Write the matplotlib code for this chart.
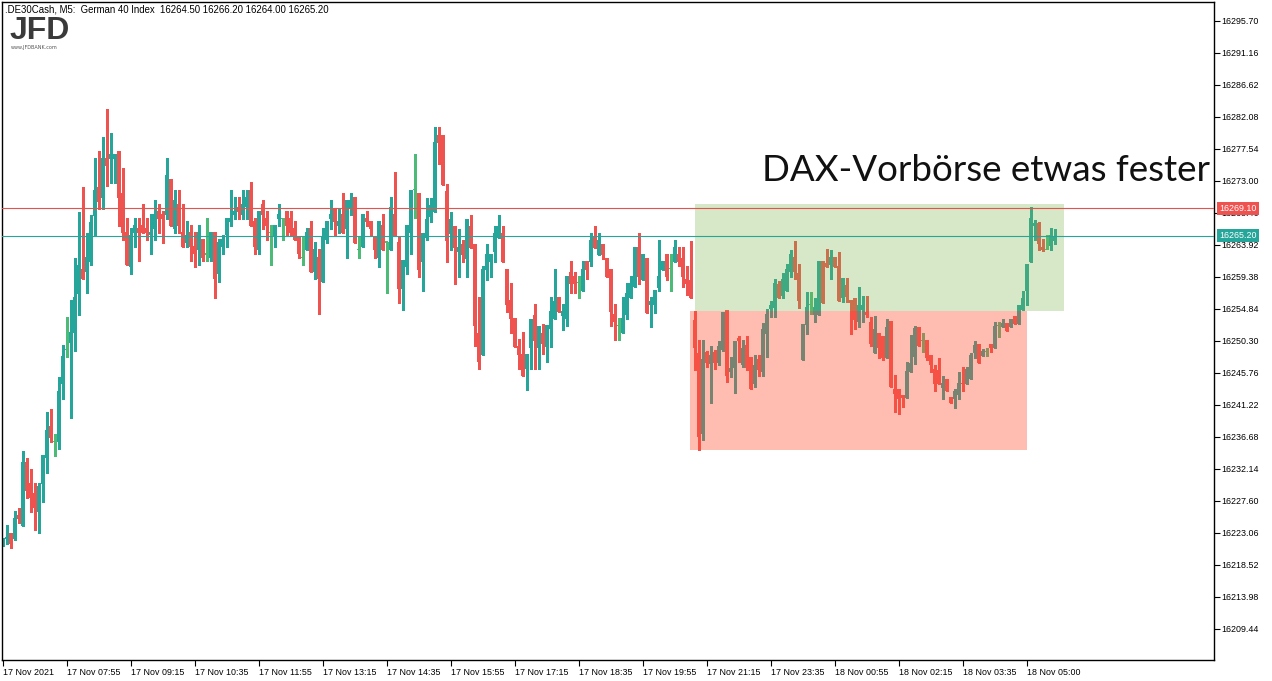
import numpy as np
import matplotlib
matplotlib.use("Agg")
import matplotlib.pyplot as plt
from matplotlib.patches import Rectangle
import matplotlib.transforms as mtransforms

# ---------------- data (5-minute bars, DE30) ----------------
opens = [
16221.5,16222.1,16223.0,16222.1,16225.6,16224.0,16233.1,16230.1,16228.7,16226.0,
16230.0,16233.6,16238.2,16236.0,16236.0,16244.1,16249.1,16250.0,16251.4,16257.0,
16260.5,16260.1,16261.5,16268.0,16272.1,16270.6,16276.2,16276.1,16276.1,16277.2,
16271.2,16265.7,16260.7,16265.6,16266.3,16266.7,16266.3,16265.3,16266.2,16268.7,
16268.3,16268.2,16273.2,16266.2,16269.7,16265.7,16264.2,16265.7,16263.7,16263.2,
16264.7,16262.6,16262.1,16265.7,16259.7,16263.6,16265.3,16267.2,16268.2,16269.3,
16268.2,16269.3,16271.7,16267.3,16263.2,16269.7,16267.7,16265.7,16265.2,16267.6,
16267.7,16268.7,16267.7,16266.3,16265.2,16262.1,16263.2,16266.3,16260.1,16262.2,
16258.7,16264.6,16267.6,16269.2,16266.6,16268.3,16266.2,16269.2,16270.7,16263.3,
16263.6,16267.7,16267.3,16265.2,16262.1,16266.7,16264.3,16263.2,16268.3,16264.3,
16257.7,16260.7,16265.6,16271.7,16271.2,16261.5,16264.9,16267.9,16268.5,16279.5,
16279.5,16271.5,16265.5,16266.6,16262.9,16264.0,16261.9,16266.6,16264.0,16251.4,
16248.3,16260.3,16261.5,16262.9,16264.9,16265.6,16260.5,16256.1,16253.5,16249.6,
16248.4,16246.3,16249.3,16254.0,16249.3,16251.4,16249.4,16252.0,16253.4,16256.5,
16253.8,16253.4,16260.0,16259.5,16258.5,16257.4,16261.6,16261.5,16265.0,16262.5,
16264.0,16262.0,16260.5,16254.1,16252.5,16251.4,16254.0,16256.4,16257.9,16263.6,
16258.9,16262.0,16255.4,16255.4,16257.8,16260.3,16262.6,16260.5,16261.5,16262.6,
16262.0,16259.1,16258.9,16253.2,16248.5,16237.0,16248.7,16247.0,16248.7,16247.2,
16249.0,16254.6,16245.9,16246.5,16250.7,16246.9,16249.7,16248.0,16244.2,16247.7,
16245.9,16251.3,16254.8,16255.0,16258.3,16256.7,16257.4,16260.1,16262.2,16259.9,
16247.6,16252.6,16255.5,16254.0,16254.0,16261.6,16261.3,16261.0,16262.2,16260.9,
16256.4,16258.2,16256.1,16256.4,16252.9,16254.7,16254.4,16253.0,16248.5,16251.4,
16251.0,16247.9,16253.1,16243.4,16243.4,16242.6,16242.2,16245.9,16248.0,16252.2,
16250.3,16250.4,16248.3,16246.3,16246.2,16243.6,16244.9,16242.3,16242.1,16242.6,
16244.3,16244.2,16244.8,16248.6,16249.8,16248.2,16248.8,16249.8,16249.2,16252.4,
16252.3,16252.8,16252.3,16253.8,16252.7,16254.7,16257.3,16261.5,16266.6,16267.0,
16263.6,16263.3,16263.7,16264.5]
highs = [
16222.3,16224.1,16223.0,16226.1,16226.6,16234.6,16233.6,16232.1,16230.1,16230.1,
16234.1,16240.2,16240.6,16237.1,16245.1,16249.7,16253.7,16256.1,16262.0,16268.6,
16272.1,16265.6,16268.1,16276.2,16277.2,16279.2,16283.2,16279.8,16276.8,16277.2,
16274.8,16267.7,16266.3,16267.7,16267.7,16269.7,16267.7,16268.3,16270.3,16269.7,
16268.7,16276.2,16273.2,16271.7,16271.7,16269.7,16267.3,16266.7,16265.7,16266.7,
16264.7,16267.7,16265.7,16265.7,16264.7,16265.3,16267.7,16271.7,16270.7,16270.7,
16271.7,16271.7,16272.8,16267.7,16268.7,16270.3,16268.7,16266.7,16266.7,16269.7,
16267.7,16268.7,16268.7,16267.3,16265.2,16265.2,16266.3,16267.3,16264.3,16263.3,
16266.3,16267.3,16270.3,16269.2,16269.2,16271.2,16270.3,16271.2,16270.7,16265.2,
16268.3,16268.7,16267.3,16265.2,16267.3,16268.3,16264.3,16270.7,16274.2,16265.2,
16261.7,16266.7,16271.7,16276.8,16271.2,16265.6,16270.5,16270.5,16280.6,16280.6,
16279.5,16272.5,16268.6,16266.6,16266.2,16264.6,16267.6,16268.1,16264.0,16256.5,
16260.9,16264.0,16262.6,16266.6,16268.1,16266.6,16260.5,16258.5,16253.5,16250.5,
16251.5,16248.4,16253.4,16255.5,16252.4,16252.7,16252.5,16256.5,16260.5,16256.5,
16255.5,16259.5,16261.6,16260.0,16259.5,16261.6,16261.6,16265.6,16266.6,16265.6,
16264.0,16262.0,16260.5,16255.5,16253.5,16256.5,16258.5,16259.5,16263.6,16265.6,
16262.6,16262.0,16256.5,16257.5,16264.6,16261.6,16262.6,16262.6,16264.6,16263.6,
16263.6,16260.9,16264.5,16254.5,16250.4,16250.4,16248.8,16249.5,16249.0,16250.2,
16254.4,16254.6,16248.0,16250.2,16251.0,16250.4,16251.0,16248.0,16248.3,16248.3,
16252.8,16254.8,16255.9,16259.1,16258.8,16259.9,16261.2,16263.2,16264.4,16261.2,
16252.7,16257.2,16257.2,16256.4,16261.6,16261.6,16263.3,16263.2,16262.2,16262.9,
16259.2,16259.2,16256.1,16256.4,16257.9,16256.6,16256.6,16253.7,16253.8,16251.4,
16251.0,16253.4,16253.1,16245.4,16243.4,16242.6,16247.3,16251.1,16252.4,16252.2,
16251.4,16250.4,16248.3,16246.8,16247.8,16245.3,16244.9,16242.3,16243.4,16245.8,
16246.6,16246.6,16248.6,16250.3,16249.8,16249.1,16249.3,16249.8,16253.0,16253.0,
16253.4,16252.8,16253.4,16253.8,16255.4,16257.4,16261.2,16269.3,16267.4,16267.1,
16264.7,16265.3,16266.3,16266.2]
lows = [
16221.2,16221.5,16220.9,16222.0,16224.5,16224.0,16228.0,16226.0,16223.5,16223.0,
16227.4,16231.6,16236.0,16234.0,16235.0,16242.1,16248.0,16239.4,16248.9,16254.0,
16259.1,16257.1,16261.1,16265.1,16269.0,16269.0,16272.3,16272.7,16272.7,16266.6,
16264.6,16261.1,16259.7,16263.6,16261.6,16265.6,16264.6,16262.6,16264.6,16265.6,
16264.2,16267.6,16266.6,16265.6,16265.6,16263.6,16263.6,16261.6,16260.7,16261.1,
16261.6,16261.6,16261.6,16256.4,16258.7,16262.6,16263.6,16266.6,16267.6,16267.6,
16267.6,16267.6,16266.6,16262.6,16262.6,16266.2,16264.6,16261.1,16263.6,16266.6,
16264.6,16265.2,16265.2,16264.6,16262.1,16261.1,16263.2,16260.1,16259.1,16254.1,
16258.7,16264.2,16266.2,16265.2,16265.6,16265.6,16262.1,16268.2,16264.2,16262.1,
16263.6,16266.6,16265.2,16262.1,16260.7,16263.2,16257.1,16263.2,16265.2,16255.7,
16254.7,16259.7,16262.6,16267.7,16259.4,16257.4,16264.6,16267.2,16268.5,16275.4,
16272.4,16261.5,16263.2,16258.3,16259.4,16261.5,16259.4,16263.5,16249.5,16246.3,
16248.3,16258.9,16259.3,16261.5,16264.9,16261.5,16254.4,16251.4,16249.4,16246.3,
16245.3,16243.3,16246.3,16246.3,16246.3,16248.4,16247.3,16249.4,16253.4,16254.4,
16251.8,16252.4,16257.1,16257.1,16256.4,16257.4,16259.1,16260.9,16263.5,16262.5,
16261.9,16259.3,16252.4,16250.4,16250.4,16251.4,16253.4,16256.4,16257.9,16258.4,
16258.9,16254.2,16252.3,16254.2,16257.4,16260.3,16258.9,16257.4,16261.5,16260.9,
16257.9,16256.8,16256.4,16246.2,16234.8,16236.2,16246.6,16241.4,16246.3,16246.9,
16248.9,16244.5,16245.2,16242.9,16247.3,16246.6,16246.2,16243.5,16243.8,16245.3,
16245.3,16248.0,16253.6,16253.7,16256.3,16256.4,16257.4,16259.4,16259.1,16255.0,
16247.6,16251.3,16254.1,16253.0,16254.0,16255.7,16260.8,16259.1,16260.8,16256.0,
16255.8,16255.8,16251.3,16252.0,16252.3,16253.0,16253.7,16249.5,16248.5,16247.8,
16247.6,16247.9,16243.8,16240.2,16239.9,16240.9,16242.2,16245.9,16247.0,16249.6,
16248.7,16247.6,16245.8,16243.2,16244.2,16242.1,16243.2,16241.4,16240.8,16242.1,
16243.1,16244.2,16244.8,16247.8,16247.2,16248.2,16248.2,16248.7,16249.2,16250.8,
16252.3,16251.7,16252.3,16252.7,16252.7,16254.7,16255.4,16261.5,16264.6,16263.2,
16263.0,16263.3,16263.2,16264.0]
closes = [
16222.1,16222.4,16221.5,16225.1,16225.0,16233.1,16229.0,16228.0,16226.5,16229.7,
16234.1,16237.6,16236.5,16236.0,16243.2,16248.1,16249.1,16251.5,16256.5,16261.0,
16259.1,16262.2,16267.1,16271.7,16270.0,16276.2,16275.1,16276.8,16276.8,16270.6,
16265.6,16261.1,16265.3,16266.7,16265.6,16265.6,16265.6,16265.7,16268.3,16267.6,
16267.6,16273.8,16266.6,16270.3,16266.6,16263.6,16265.3,16263.6,16262.6,16265.7,
16262.1,16262.6,16265.7,16259.1,16264.3,16264.7,16267.7,16267.7,16268.7,16268.6,
16269.7,16270.7,16266.6,16263.6,16268.7,16268.2,16266.6,16265.7,16266.7,16268.3,
16267.7,16266.6,16265.6,16264.6,16262.6,16262.1,16265.7,16260.1,16263.3,16259.1,
16265.2,16267.3,16268.3,16267.2,16267.3,16265.6,16270.3,16270.3,16264.2,16263.3,
16268.3,16267.2,16266.2,16263.2,16267.3,16263.2,16264.3,16269.3,16265.2,16257.7,
16261.7,16266.7,16271.7,16271.7,16260.4,16265.6,16267.6,16269.5,16278.5,16278.4,
16272.4,16264.4,16267.6,16263.5,16263.6,16262.5,16267.6,16263.5,16252.4,16247.3,
16260.5,16262.6,16262.6,16265.6,16266.6,16261.5,16255.4,16253.4,16249.4,16248.3,
16245.3,16248.4,16253.4,16250.3,16252.4,16249.8,16252.5,16254.5,16255.9,16254.4,
16254.5,16259.5,16258.4,16258.4,16258.5,16260.5,16260.3,16264.6,16263.5,16264.6,
16262.5,16259.3,16254.4,16253.0,16252.5,16253.5,16257.1,16258.5,16263.6,16259.3,
16262.6,16254.2,16255.9,16257.5,16259.5,16261.6,16259.3,16260.5,16263.6,16261.5,
16259.3,16258.4,16256.4,16249.3,16236.7,16247.7,16247.2,16248.3,16247.2,16249.5,
16254.4,16245.3,16246.4,16250.2,16250.3,16249.3,16246.5,16243.5,16246.9,16246.2,
16252.0,16254.1,16255.4,16258.5,16256.4,16259.1,16260.5,16262.6,16260.1,16256.0,
16252.7,16255.1,16255.5,16255.1,16261.6,16255.7,16260.8,16262.2,16260.8,16256.0,
16259.2,16256.5,16255.7,16253.3,16255.4,16255.4,16253.9,16249.9,16252.0,16249.3,
16247.9,16252.2,16243.8,16242.8,16242.1,16242.2,16246.0,16247.1,16252.1,16249.6,
16250.3,16247.8,16246.8,16244.2,16244.2,16244.3,16243.2,16241.5,16243.2,16244.3,
16244.1,16246.3,16248.3,16249.7,16247.2,16248.8,16248.8,16249.2,16252.4,16252.4,
16252.8,16251.7,16253.4,16252.7,16255.4,16256.4,16261.2,16267.7,16267.0,16264.0,
16263.2,16263.3,16265.3,16265.2]

y_ticks = [16295.70, 16291.16, 16286.62, 16282.08, 16277.54, 16273.00, 16268.46,
           16263.92, 16259.38, 16254.84, 16250.30, 16245.76, 16241.22, 16236.68,
           16232.14, 16227.60, 16223.06, 16218.52, 16213.98, 16209.44]
x_tick_bars = [0, 16, 32, 48, 64, 80, 96, 112, 128, 144, 160, 176, 192, 208, 224, 240, 256]
x_tick_labels = ["17 Nov 2021", "17 Nov 07:55", "17 Nov 09:15", "17 Nov 10:35",
                 "17 Nov 11:55", "17 Nov 13:15", "17 Nov 14:35", "17 Nov 15:55",
                 "17 Nov 17:15", "17 Nov 18:35", "17 Nov 19:55", "17 Nov 21:15",
                 "17 Nov 23:35", "18 Nov 00:55", "18 Nov 02:15", "18 Nov 03:35",
                 "18 Nov 05:00"]
ask_level = 16269.10
bid_level = 16265.20
# zones (bar index range, price range)
green_zone = (173.1, 265.3, 16254.45, 16269.70)
red_zone = (171.8, 256.1, 16234.84, 16254.45)

header = ".DE30Cash, M5:  German 40 Index  16264.50 16266.20 16264.00 16265.20"
title = "DAX-Vorbörse etwas fester"

# ---------------- drawing ----------------
UP, DOWN, DOJI = "#26a69a", "#ef5350", "#4dbb78"
SMALL = dict(family="Liberation Sans", size=6.4)
W, H = 1272, 681
fig = plt.figure(figsize=(W / 100, H / 100), dpi=100)
fig.patch.set_facecolor("white")
ax = fig.add_axes([2 / W, 1 - 660 / H, (1214 - 2) / W, (660 - 2) / H])

O = np.array(opens); Hh = np.array(highs); L = np.array(lows); C = np.array(closes)
n = len(O)
idx = np.arange(n)
cols = np.where(C > O, UP, np.where(C < O, DOWN, DOJI))

ax.vlines(idx, L, Hh, colors=cols, linewidth=0.75, antialiased=False, zorder=2)
body_h = np.maximum(np.abs(C - O), 0.16)
body_b = np.where(np.abs(C - O) < 0.16, O - 0.08, np.minimum(O, C))
ax.bar(idx, body_h, bottom=body_b, width=0.74, color=cols, linewidth=0,
       antialiased=False, zorder=2)

gx0, gx1, gy0, gy1 = green_zone
ax.add_patch(Rectangle((gx0, gy0), gx1 - gx0, gy1 - gy0, facecolor="#7ab648",
                       alpha=0.3, edgecolor="none", zorder=3))
rx0, rx1, ry0, ry1 = red_zone
ax.add_patch(Rectangle((rx0, ry0), rx1 - rx0, ry1 - ry0, facecolor="#ff4f32",
                       alpha=0.38, edgecolor="none", zorder=3))

ax.axhline(ask_level, color="#e0564e", linewidth=0.8, zorder=4)
ax.axhline(bid_level, color="#26a69a", linewidth=0.8, zorder=4)

ax.set_xlim(-0.18, 302.8)
ax.set_ylim(16205.0, 16298.36)

ax.yaxis.tick_right()
ax.set_yticks(y_ticks)
ax.set_yticklabels([f"{v:.2f}" for v in y_ticks], fontdict=SMALL)
ax.tick_params(axis="y", direction="out", length=4, width=0.8, pad=1.5,
               colors="black")
ax.set_xticks(x_tick_bars)
ax.set_xticklabels(x_tick_labels, fontdict=SMALL)
ax.tick_params(axis="x", direction="out", length=4, width=0.8, pad=1.5,
               colors="black")
for lbl in ax.get_xticklabels():
    lbl.set_horizontalalignment("left")
for s in ax.spines.values():
    s.set_color("black")
    s.set_linewidth(1.0)

trans = mtransforms.blended_transform_factory(ax.transAxes, ax.transData)
for lvl, bg in ((ask_level, "#ef5350"), (bid_level, "#26a69a")):
    ax.text(1 + 5 / 1212, lvl, f"{lvl:.2f}", transform=trans, ha="left",
            va="center", color="white", zorder=10, clip_on=False,
            fontdict=SMALL,
            bbox=dict(facecolor=bg, edgecolor="none", boxstyle="square,pad=0.25"))

fig.text(5 / W, 1 - 10 / H, header, family="Liberation Sans", size=6.9,
         ha="left", va="center")
fig.text(10 / W, 1 - 31 / H, "JFD", fontsize=23, weight="bold",
         family="Liberation Sans", color="#3a3a3a", ha="left", va="center")
fig.text(11 / W, 1 - 48 / H, "www.JFDBANK.com", fontsize=3.5, color="#555555",
         ha="left", va="center")
fig.text(1210 / W, 1 - 181 / H, title, fontsize=26.5, family="Lato",
         color="#111111", ha="right", va="baseline")

fig.savefig("out.png", dpi=100)
